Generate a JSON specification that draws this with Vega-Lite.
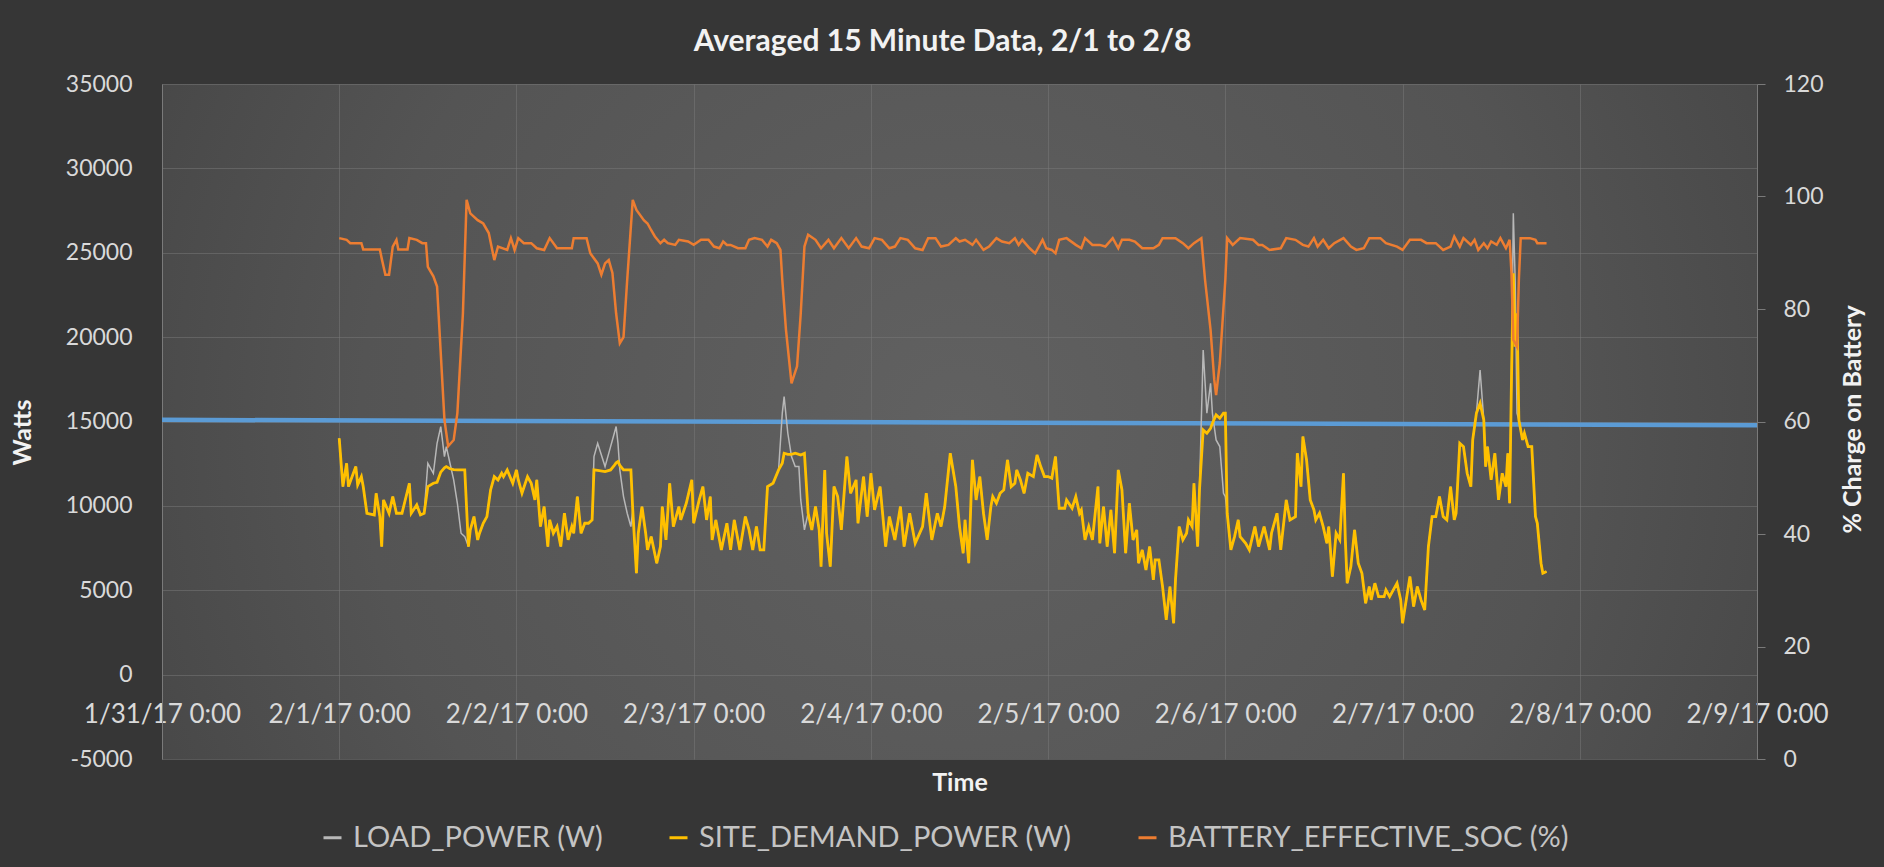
{
  "$schema": "https://vega.github.io/schema/vega-lite/v6.json",
  "width": 1595,
  "height": 675,
  "autosize": {"type": "none"},
  "padding": {"left": 162, "top": 84, "right": 127, "bottom": 108},
  "background": "#363636",
  "title": {
    "text": "Averaged 15 Minute Data, 2/1 to 2/8",
    "font": "Lato", "fontSize": 30, "fontWeight": "bold", "color": "#f2f2f2",
    "anchor": "middle", "frame": "group", "dx": -17, "baseline": "alphabetic", "offset": 26, "dy": 34
  },
  "config": {
    "font": "Lato",
    "view": {"stroke": null, "fill": {"gradient": "radial", "x1": 0.5, "y1": 0.5, "r1": 0, "x2": 0.5, "y2": 0.5, "r2": 0.75, "stops": [{"offset": 0, "color": "#616161"}, {"offset": 0.5, "color": "#545454"}, {"offset": 1, "color": "#3a3a3a"}]}},
    "axis": {"labelFont": "Lato", "titleFont": "Lato", "labelFontSize": 25, "titleFontSize": 25, "titleFontWeight": "bold", "labelColor": "#d9d9d9", "titleColor": "#f2f2f2", "gridColor": "#7a7a7a", "gridOpacity": 0.5, "gridWidth": 1, "domainColor": "#7a7a7a", "tickColor": "#7a7a7a"},
    "legend": {"labelFont": "Lato", "labelFontSize": 29, "labelColor": "#c4c4c4", "labelLimit": 0}
  },
  "datasets": {
    "limit": [{"t": "2017-01-31T00:00", "v": 15100}, {"t": "2017-02-09T00:00", "v": 14780}],
    "power": [
      {"t":"2017-02-01T00:00","d":14007,"l":14007},{"t":"2017-02-01T00:30","d":11143,"l":11143},{"t":"2017-02-01T01:00","d":12526,"l":12526},{"t":"2017-02-01T01:15","d":11143,"l":11143},{"t":"2017-02-01T02:15","d":12328,"l":12328},{"t":"2017-02-01T02:30","d":11242,"l":11242},{"t":"2017-02-01T03:00","d":11735,"l":11735},{"t":"2017-02-01T03:15","d":11143,"l":11143},{"t":"2017-02-01T03:45","d":9563,"l":9563},{"t":"2017-02-01T04:45","d":9464,"l":9464},{"t":"2017-02-01T05:00","d":10748,"l":10748},{"t":"2017-02-01T05:30","d":9365,"l":9365},{"t":"2017-02-01T05:45","d":7588,"l":7588},{"t":"2017-02-01T06:00","d":10353,"l":10353},{"t":"2017-02-01T06:45","d":9563,"l":9563},{"t":"2017-02-01T07:15","d":10550,"l":10550},{"t":"2017-02-01T07:45","d":9563,"l":9563},{"t":"2017-02-01T08:30","d":9563,"l":9563},{"t":"2017-02-01T09:30","d":11340,"l":11340},{"t":"2017-02-01T09:45","d":9563,"l":9563},{"t":"2017-02-01T10:30","d":10057,"l":10057},{"t":"2017-02-01T11:00","d":9464,"l":9464},{"t":"2017-02-01T11:30","d":9563,"l":9563},
      {"t":"2017-02-01T12:00","d":11143,"l":12525},{"t":"2017-02-01T12:45","d":11340,"l":11933},{"t":"2017-02-01T13:15","d":11400,"l":13710},{"t":"2017-02-01T13:45","d":12000,"l":14700},{"t":"2017-02-01T14:15","d":12250,"l":12921},{"t":"2017-02-01T14:30","d":12328,"l":13513},{"t":"2017-02-01T15:00","d":12200,"l":12526},{"t":"2017-02-01T15:30","d":12150,"l":11538},{"t":"2017-02-01T16:00","d":12130,"l":10155},{"t":"2017-02-01T16:30","d":12130,"l":8378},{"t":"2017-02-01T17:00","d":12130,"l":8180},
      {"t":"2017-02-01T17:30","d":7588,"l":7588},{"t":"2017-02-01T17:45","d":8575,"l":8575},{"t":"2017-02-01T18:15","d":9365,"l":9365},{"t":"2017-02-01T18:45","d":7983,"l":7983},{"t":"2017-02-01T19:00","d":8378,"l":8378},{"t":"2017-02-01T19:30","d":8970,"l":8970},{"t":"2017-02-01T20:00","d":9365,"l":9365},{"t":"2017-02-01T20:30","d":10945,"l":10945},{"t":"2017-02-01T21:00","d":11735,"l":11735},{"t":"2017-02-01T21:30","d":11538,"l":11538},{"t":"2017-02-01T22:00","d":11933,"l":11933},{"t":"2017-02-01T22:15","d":11735,"l":11735},{"t":"2017-02-01T22:45","d":12130,"l":12130},{"t":"2017-02-01T23:30","d":11340,"l":11340},
      {"t":"2017-02-02T00:00","d":12130,"l":12130},{"t":"2017-02-02T00:15","d":11538,"l":11538},{"t":"2017-02-02T00:45","d":10748,"l":10748},{"t":"2017-02-02T01:30","d":11735,"l":11735},{"t":"2017-02-02T02:00","d":11340,"l":11340},{"t":"2017-02-02T02:30","d":10353,"l":10353},{"t":"2017-02-02T02:45","d":11538,"l":11538},{"t":"2017-02-02T03:15","d":8773,"l":8773},{"t":"2017-02-02T03:45","d":9958,"l":9958},{"t":"2017-02-02T04:15","d":7588,"l":7588},{"t":"2017-02-02T04:30","d":9168,"l":9168},{"t":"2017-02-02T05:00","d":8378,"l":8378},{"t":"2017-02-02T05:30","d":8773,"l":8773},{"t":"2017-02-02T06:00","d":7588,"l":7588},{"t":"2017-02-02T06:30","d":9563,"l":9563},{"t":"2017-02-02T07:00","d":7983,"l":7983},{"t":"2017-02-02T07:30","d":8773,"l":8773},{"t":"2017-02-02T07:45","d":8378,"l":8378},{"t":"2017-02-02T08:15","d":10550,"l":10550},{"t":"2017-02-02T08:45","d":8378,"l":8378},{"t":"2017-02-02T09:15","d":8970,"l":8970},{"t":"2017-02-02T09:45","d":8970,"l":8970},{"t":"2017-02-02T10:15","d":9168,"l":9168},
      {"t":"2017-02-02T10:30","d":12130,"l":12921},{"t":"2017-02-02T11:00","d":12100,"l":13710},{"t":"2017-02-02T12:00","d":12032,"l":12328},{"t":"2017-02-02T12:45","d":12130,"l":13513},{"t":"2017-02-02T13:15","d":12400,"l":14303},{"t":"2017-02-02T13:30","d":12550,"l":14700},{"t":"2017-02-02T13:45","d":12624,"l":13710},{"t":"2017-02-02T14:00","d":12400,"l":12130},{"t":"2017-02-02T14:30","d":12130,"l":10550},{"t":"2017-02-02T15:00","d":12130,"l":9563},{"t":"2017-02-02T15:30","d":12130,"l":8773},
      {"t":"2017-02-02T15:45","d":9760,"l":9760},{"t":"2017-02-02T16:15","d":6008,"l":6008},{"t":"2017-02-02T16:30","d":8378,"l":8378},{"t":"2017-02-02T17:00","d":9958,"l":9958},{"t":"2017-02-02T17:30","d":8378,"l":8378},{"t":"2017-02-02T17:45","d":7390,"l":7390},{"t":"2017-02-02T18:15","d":8180,"l":8180},{"t":"2017-02-02T19:00","d":6600,"l":6600},{"t":"2017-02-02T19:30","d":7588,"l":7588},{"t":"2017-02-02T19:45","d":9958,"l":9958},{"t":"2017-02-02T20:15","d":7983,"l":7983},{"t":"2017-02-02T20:45","d":11340,"l":11340},{"t":"2017-02-02T21:15","d":8773,"l":8773},{"t":"2017-02-02T22:00","d":9958,"l":9958},{"t":"2017-02-02T22:15","d":9168,"l":9168},{"t":"2017-02-02T23:00","d":10155,"l":10155},{"t":"2017-02-02T23:45","d":11538,"l":11538},
      {"t":"2017-02-03T00:00","d":8970,"l":8970},{"t":"2017-02-03T00:45","d":10353,"l":10353},{"t":"2017-02-03T01:15","d":11143,"l":11143},{"t":"2017-02-03T01:45","d":9168,"l":9168},{"t":"2017-02-03T02:15","d":10550,"l":10550},{"t":"2017-02-03T02:30","d":7983,"l":7983},{"t":"2017-02-03T03:00","d":9168,"l":9168},{"t":"2017-02-03T03:45","d":7390,"l":7390},{"t":"2017-02-03T04:30","d":8970,"l":8970},{"t":"2017-02-03T05:00","d":7390,"l":7390},{"t":"2017-02-03T05:30","d":9168,"l":9168},{"t":"2017-02-03T06:15","d":7390,"l":7390},{"t":"2017-02-03T07:00","d":9365,"l":9365},{"t":"2017-02-03T07:30","d":8575,"l":8575},{"t":"2017-02-03T08:00","d":7390,"l":7390},{"t":"2017-02-03T08:30","d":8773,"l":8773},{"t":"2017-02-03T09:00","d":7390,"l":7390},{"t":"2017-02-03T09:30","d":7390,"l":7390},{"t":"2017-02-03T10:00","d":11143,"l":11143},{"t":"2017-02-03T10:45","d":11340,"l":11340},{"t":"2017-02-03T11:30","d":12130,"l":12130},
      {"t":"2017-02-03T12:00","d":12526,"l":15488},{"t":"2017-02-03T12:15","d":13118,"l":16475},{"t":"2017-02-03T12:45","d":13050,"l":14303},{"t":"2017-02-03T13:15","d":13050,"l":12921},{"t":"2017-02-03T13:45","d":13118,"l":12328},{"t":"2017-02-03T14:15","d":13050,"l":12328},{"t":"2017-02-03T14:30","d":13019,"l":10353},{"t":"2017-02-03T15:00","d":13118,"l":8575},
      {"t":"2017-02-03T15:30","d":9563,"l":9563},{"t":"2017-02-03T16:00","d":8575,"l":8575},{"t":"2017-02-03T16:30","d":9958,"l":9958},{"t":"2017-02-03T17:00","d":8575,"l":8575},{"t":"2017-02-03T17:15","d":6403,"l":6403},{"t":"2017-02-03T17:45","d":12130,"l":12130},{"t":"2017-02-03T18:00","d":8378,"l":8378},{"t":"2017-02-03T18:30","d":6403,"l":6403},{"t":"2017-02-03T19:00","d":11143,"l":11143},{"t":"2017-02-03T19:30","d":10550,"l":10550},{"t":"2017-02-03T20:00","d":8575,"l":8575},{"t":"2017-02-03T20:45","d":12921,"l":12921},{"t":"2017-02-03T21:15","d":10748,"l":10748},{"t":"2017-02-03T22:00","d":11538,"l":11538},{"t":"2017-02-03T22:15","d":8970,"l":8970},{"t":"2017-02-03T23:00","d":11735,"l":11735},{"t":"2017-02-03T23:30","d":9365,"l":9365},
      {"t":"2017-02-04T00:00","d":11933,"l":11933},{"t":"2017-02-04T00:30","d":9760,"l":9760},{"t":"2017-02-04T01:15","d":11143,"l":11143},{"t":"2017-02-04T02:00","d":7588,"l":7588},{"t":"2017-02-04T02:30","d":9365,"l":9365},{"t":"2017-02-04T03:15","d":7983,"l":7983},{"t":"2017-02-04T04:00","d":9958,"l":9958},{"t":"2017-02-04T04:30","d":7588,"l":7588},{"t":"2017-02-04T05:15","d":9563,"l":9563},{"t":"2017-02-04T06:00","d":7785,"l":7785},{"t":"2017-02-04T07:00","d":8773,"l":8773},{"t":"2017-02-04T07:30","d":10748,"l":10748},{"t":"2017-02-04T08:15","d":7983,"l":7983},{"t":"2017-02-04T09:00","d":9563,"l":9563},{"t":"2017-02-04T09:30","d":8773,"l":8773},{"t":"2017-02-04T10:00","d":9958,"l":9958},{"t":"2017-02-04T10:45","d":13118,"l":13118},{"t":"2017-02-04T11:30","d":11143,"l":11143},{"t":"2017-02-04T12:00","d":8773,"l":8773},{"t":"2017-02-04T12:30","d":7193,"l":7193},{"t":"2017-02-04T12:45","d":9168,"l":9168},{"t":"2017-02-04T13:15","d":6600,"l":6600},{"t":"2017-02-04T13:45","d":12723,"l":12723},{"t":"2017-02-04T14:15","d":10353,"l":10353},{"t":"2017-02-04T14:45","d":11735,"l":11735},{"t":"2017-02-04T15:15","d":9563,"l":9563},{"t":"2017-02-04T15:45","d":7983,"l":7983},{"t":"2017-02-04T16:15","d":9958,"l":9958},{"t":"2017-02-04T16:30","d":10550,"l":10550},{"t":"2017-02-04T17:00","d":10155,"l":10155},{"t":"2017-02-04T17:30","d":10748,"l":10748},{"t":"2017-02-04T18:00","d":10945,"l":10945},{"t":"2017-02-04T18:30","d":12723,"l":12723},{"t":"2017-02-04T19:00","d":11143,"l":11143},{"t":"2017-02-04T19:30","d":11340,"l":11340},{"t":"2017-02-04T19:45","d":12130,"l":12130},{"t":"2017-02-04T20:15","d":11538,"l":11538},{"t":"2017-02-04T20:45","d":10748,"l":10748},{"t":"2017-02-04T21:15","d":11933,"l":11933},{"t":"2017-02-04T22:00","d":11735,"l":11735},{"t":"2017-02-04T22:30","d":13019,"l":13019},{"t":"2017-02-04T23:00","d":12328,"l":12328},{"t":"2017-02-04T23:30","d":11735,"l":11735},
      {"t":"2017-02-05T00:00","d":11735,"l":11735},{"t":"2017-02-05T00:30","d":11636,"l":11636},{"t":"2017-02-05T01:00","d":12921,"l":12921},{"t":"2017-02-05T01:30","d":9859,"l":9859},{"t":"2017-02-05T02:15","d":9859,"l":9859},{"t":"2017-02-05T02:30","d":10353,"l":10353},{"t":"2017-02-05T03:15","d":9859,"l":9859},{"t":"2017-02-05T03:45","d":10550,"l":10550},{"t":"2017-02-05T04:15","d":9563,"l":9563},{"t":"2017-02-05T04:30","d":9760,"l":9760},{"t":"2017-02-05T05:00","d":7983,"l":7983},{"t":"2017-02-05T05:30","d":8773,"l":8773},{"t":"2017-02-05T06:00","d":7983,"l":7983},{"t":"2017-02-05T06:45","d":11143,"l":11143},{"t":"2017-02-05T07:00","d":7785,"l":7785},{"t":"2017-02-05T07:30","d":9958,"l":9958},{"t":"2017-02-05T08:00","d":7588,"l":7588},{"t":"2017-02-05T08:30","d":9760,"l":9760},{"t":"2017-02-05T09:00","d":7193,"l":7193},{"t":"2017-02-05T09:30","d":12130,"l":12130},{"t":"2017-02-05T10:00","d":10945,"l":10945},{"t":"2017-02-05T10:30","d":7193,"l":7193},{"t":"2017-02-05T11:00","d":10155,"l":10155},{"t":"2017-02-05T11:30","d":7983,"l":7983},{"t":"2017-02-05T12:00","d":8575,"l":8575},{"t":"2017-02-05T12:15","d":6600,"l":6600},{"t":"2017-02-05T12:45","d":7390,"l":7390},{"t":"2017-02-05T13:15","d":6205,"l":6205},{"t":"2017-02-05T13:45","d":7588,"l":7588},{"t":"2017-02-05T14:15","d":5613,"l":5613},{"t":"2017-02-05T14:30","d":6798,"l":6798},{"t":"2017-02-05T15:00","d":6798,"l":6798},{"t":"2017-02-05T15:30","d":5218,"l":5218},{"t":"2017-02-05T16:00","d":3243,"l":3243},{"t":"2017-02-05T16:30","d":5218,"l":5218},{"t":"2017-02-05T17:00","d":3045,"l":3045},{"t":"2017-02-05T17:15","d":5613,"l":5613},{"t":"2017-02-05T17:45","d":8773,"l":8773},{"t":"2017-02-05T18:15","d":7983,"l":7983},{"t":"2017-02-05T18:45","d":8378,"l":8378},{"t":"2017-02-05T19:00","d":9168,"l":9168},{"t":"2017-02-05T19:30","d":8773,"l":8773},{"t":"2017-02-05T19:45","d":11340,"l":11340},{"t":"2017-02-05T20:15","d":7588,"l":7588},{"t":"2017-02-05T20:30","d":10945,"l":10945},
      {"t":"2017-02-05T21:00","d":14500,"l":19240},{"t":"2017-02-05T21:30","d":14303,"l":15488},{"t":"2017-02-05T22:00","d":14600,"l":17266},{"t":"2017-02-05T22:15","d":14895,"l":15488},{"t":"2017-02-05T22:45","d":15389,"l":13908},{"t":"2017-02-05T23:15","d":15192,"l":13513},{"t":"2017-02-05T23:45","d":15488,"l":10748},{"t":"2017-02-06T00:00","d":15488,"l":10550},
      {"t":"2017-02-06T00:15","d":9563,"l":9563},{"t":"2017-02-06T00:45","d":7390,"l":7390},{"t":"2017-02-06T01:15","d":8180,"l":8180},{"t":"2017-02-06T01:45","d":9168,"l":9168},{"t":"2017-02-06T02:00","d":8180,"l":8180},{"t":"2017-02-06T02:45","d":7785,"l":7785},{"t":"2017-02-06T03:15","d":7390,"l":7390},{"t":"2017-02-06T04:00","d":8773,"l":8773},{"t":"2017-02-06T04:30","d":7588,"l":7588},{"t":"2017-02-06T05:15","d":8773,"l":8773},{"t":"2017-02-06T06:00","d":7390,"l":7390},{"t":"2017-02-06T06:15","d":8378,"l":8378},{"t":"2017-02-06T07:00","d":9563,"l":9563},{"t":"2017-02-06T07:30","d":7390,"l":7390},{"t":"2017-02-06T07:45","d":8378,"l":8378},{"t":"2017-02-06T08:15","d":10353,"l":10353},{"t":"2017-02-06T08:45","d":9168,"l":9168},{"t":"2017-02-06T09:30","d":9365,"l":9365},{"t":"2017-02-06T09:45","d":13118,"l":13118},{"t":"2017-02-06T10:15","d":11143,"l":11143},{"t":"2017-02-06T10:30","d":14106,"l":14106},{"t":"2017-02-06T11:00","d":12723,"l":12723},{"t":"2017-02-06T11:30","d":10353,"l":10353},{"t":"2017-02-06T12:00","d":9760,"l":9760},{"t":"2017-02-06T12:15","d":9168,"l":9168},{"t":"2017-02-06T12:45","d":9563,"l":9563},{"t":"2017-02-06T13:15","d":8773,"l":8773},{"t":"2017-02-06T13:45","d":7785,"l":7785},{"t":"2017-02-06T14:00","d":8773,"l":8773},{"t":"2017-02-06T14:30","d":5810,"l":5810},{"t":"2017-02-06T15:00","d":8378,"l":8378},{"t":"2017-02-06T15:30","d":7983,"l":7983},{"t":"2017-02-06T16:00","d":11933,"l":11933},{"t":"2017-02-06T16:15","d":7983,"l":7983},{"t":"2017-02-06T16:30","d":5415,"l":5415},{"t":"2017-02-06T17:00","d":6403,"l":6403},{"t":"2017-02-06T17:30","d":8575,"l":8575},{"t":"2017-02-06T18:00","d":6600,"l":6600},{"t":"2017-02-06T18:30","d":6008,"l":6008},{"t":"2017-02-06T19:00","d":4230,"l":4230},{"t":"2017-02-06T19:30","d":5218,"l":5218},{"t":"2017-02-06T19:45","d":4428,"l":4428},{"t":"2017-02-06T20:15","d":5415,"l":5415},{"t":"2017-02-06T20:45","d":4625,"l":4625},{"t":"2017-02-06T21:30","d":4625,"l":4625},{"t":"2017-02-06T21:45","d":5020,"l":5020},{"t":"2017-02-06T22:15","d":4625,"l":4625},{"t":"2017-02-06T22:45","d":5020,"l":5020},{"t":"2017-02-06T23:15","d":5415,"l":5415},{"t":"2017-02-06T23:45","d":4428,"l":4428},
      {"t":"2017-02-07T00:00","d":3045,"l":3045},{"t":"2017-02-07T00:30","d":4428,"l":4428},{"t":"2017-02-07T01:00","d":5810,"l":5810},{"t":"2017-02-07T01:30","d":4033,"l":4033},{"t":"2017-02-07T02:00","d":5218,"l":5218},{"t":"2017-02-07T02:30","d":4428,"l":4428},{"t":"2017-02-07T03:00","d":3836,"l":3836},{"t":"2017-02-07T03:30","d":7588,"l":7588},{"t":"2017-02-07T04:00","d":9365,"l":9365},{"t":"2017-02-07T04:30","d":9365,"l":9365},{"t":"2017-02-07T05:00","d":10550,"l":10550},{"t":"2017-02-07T05:30","d":9365,"l":9365},{"t":"2017-02-07T06:00","d":9168,"l":9168},{"t":"2017-02-07T06:30","d":11143,"l":11143},{"t":"2017-02-07T07:00","d":9168,"l":9168},{"t":"2017-02-07T07:15","d":9563,"l":9563},{"t":"2017-02-07T07:45","d":13710,"l":13710},{"t":"2017-02-07T08:15","d":13513,"l":13513},{"t":"2017-02-07T08:45","d":11933,"l":11933},{"t":"2017-02-07T09:15","d":11143,"l":11143},{"t":"2017-02-07T09:30","d":13908,"l":13908},{"t":"2017-02-07T10:00","d":15488,"l":15488},{"t":"2017-02-07T10:30","d":16080,"l":18055},{"t":"2017-02-07T11:00","d":15093,"l":15093},{"t":"2017-02-07T11:15","d":12328,"l":12328},{"t":"2017-02-07T11:30","d":13513,"l":13513},{"t":"2017-02-07T12:00","d":11538,"l":11538},{"t":"2017-02-07T12:30","d":13118,"l":13118},{"t":"2017-02-07T13:00","d":10353,"l":10353},{"t":"2017-02-07T13:30","d":11933,"l":11933},{"t":"2017-02-07T14:00","d":11143,"l":11143},{"t":"2017-02-07T14:15","d":13118,"l":13118},{"t":"2017-02-07T14:30","d":10155,"l":10155},{"t":"2017-02-07T14:45","d":17463,"l":17463},{"t":"2017-02-07T15:00","d":23783,"l":27338},{"t":"2017-02-07T15:15","d":19438,"l":23388},{"t":"2017-02-07T15:30","d":21413,"l":15488},{"t":"2017-02-07T15:45","d":15093,"l":15093},{"t":"2017-02-07T16:15","d":13908,"l":13908},{"t":"2017-02-07T16:30","d":14303,"l":14303},{"t":"2017-02-07T17:00","d":13513,"l":13513},{"t":"2017-02-07T17:30","d":13513,"l":13513},{"t":"2017-02-07T18:00","d":9365,"l":9365},{"t":"2017-02-07T18:15","d":8970,"l":8970},{"t":"2017-02-07T18:45","d":6600,"l":6600},{"t":"2017-02-07T19:00","d":6008,"l":6008},{"t":"2017-02-07T19:30","d":6107,"l":6107}
    ],
    "soc": [
      {"t":"2017-02-01T00:00","s":92.6},{"t":"2017-02-01T01:00","s":92.3},{"t":"2017-02-01T01:30","s":91.7},{"t":"2017-02-01T03:00","s":91.7},{"t":"2017-02-01T03:15","s":90.6},{"t":"2017-02-01T05:30","s":90.6},{"t":"2017-02-01T05:45","s":89},{"t":"2017-02-01T06:15","s":86.1},{"t":"2017-02-01T06:45","s":86.1},{"t":"2017-02-01T07:15","s":91.1},{"t":"2017-02-01T07:45","s":92.3},{"t":"2017-02-01T08:00","s":90.6},{"t":"2017-02-01T09:15","s":90.6},{"t":"2017-02-01T09:30","s":92.6},{"t":"2017-02-01T10:30","s":92.3},{"t":"2017-02-01T11:15","s":91.7},{"t":"2017-02-01T11:45","s":91.7},{"t":"2017-02-01T12:00","s":87.5},{"t":"2017-02-01T12:45","s":85.8},{"t":"2017-02-01T13:15","s":84},{"t":"2017-02-01T14:15","s":60.3},{"t":"2017-02-01T14:45","s":55.6},{"t":"2017-02-01T15:30","s":56.7},{"t":"2017-02-01T16:00","s":61.5},{"t":"2017-02-01T16:45","s":79.2},{"t":"2017-02-01T17:15","s":99.4},{"t":"2017-02-01T17:45","s":97},{"t":"2017-02-01T18:45","s":95.8},{"t":"2017-02-01T19:30","s":95.2},{"t":"2017-02-01T20:15","s":93.5},{"t":"2017-02-01T21:00","s":88.7},{"t":"2017-02-01T21:30","s":91.1},{"t":"2017-02-01T22:45","s":90.5},{"t":"2017-02-01T23:15","s":92.6},{"t":"2017-02-01T23:45","s":90.5},
      {"t":"2017-02-02T00:15","s":92.6},{"t":"2017-02-02T01:00","s":91.7},{"t":"2017-02-02T02:00","s":91.7},{"t":"2017-02-02T02:45","s":90.8},{"t":"2017-02-02T03:45","s":90.5},{"t":"2017-02-02T04:30","s":92.6},{"t":"2017-02-02T05:30","s":90.8},{"t":"2017-02-02T07:30","s":90.8},{"t":"2017-02-02T07:45","s":92.6},{"t":"2017-02-02T09:30","s":92.6},{"t":"2017-02-02T10:00","s":89.9},{"t":"2017-02-02T11:00","s":88.1},{"t":"2017-02-02T11:30","s":86.1},{"t":"2017-02-02T12:00","s":88.1},{"t":"2017-02-02T12:30","s":88.7},{"t":"2017-02-02T13:00","s":86.4},{"t":"2017-02-02T13:30","s":79.2},{"t":"2017-02-02T14:00","s":73.9},{"t":"2017-02-02T14:30","s":75},{"t":"2017-02-02T15:00","s":85.2},{"t":"2017-02-02T15:45","s":99.4},{"t":"2017-02-02T16:15","s":97.6},{"t":"2017-02-02T17:15","s":95.8},{"t":"2017-02-02T17:45","s":95.2},{"t":"2017-02-02T18:15","s":94},{"t":"2017-02-02T18:45","s":92.9},{"t":"2017-02-02T19:30","s":91.7},{"t":"2017-02-02T20:00","s":92.3},{"t":"2017-02-02T20:30","s":91.7},{"t":"2017-02-02T21:30","s":91.4},{"t":"2017-02-02T22:00","s":92.3},{"t":"2017-02-02T23:15","s":92},
      {"t":"2017-02-03T00:00","s":91.4},{"t":"2017-02-03T01:00","s":92.3},{"t":"2017-02-03T02:00","s":92.3},{"t":"2017-02-03T02:45","s":91.1},{"t":"2017-02-03T03:30","s":90.8},{"t":"2017-02-03T04:00","s":92},{"t":"2017-02-03T04:30","s":91.4},{"t":"2017-02-03T05:00","s":91.4},{"t":"2017-02-03T06:00","s":90.8},{"t":"2017-02-03T07:00","s":90.8},{"t":"2017-02-03T07:30","s":92.3},{"t":"2017-02-03T08:15","s":92.6},{"t":"2017-02-03T09:15","s":92.3},{"t":"2017-02-03T10:00","s":91.1},{"t":"2017-02-03T10:30","s":92.3},{"t":"2017-02-03T11:15","s":91.7},{"t":"2017-02-03T11:45","s":90.5},{"t":"2017-02-03T12:00","s":85.2},{"t":"2017-02-03T12:30","s":76.3},{"t":"2017-02-03T13:15","s":66.8},{"t":"2017-02-03T14:00","s":69.8},{"t":"2017-02-03T14:30","s":79.2},{"t":"2017-02-03T15:00","s":91.1},{"t":"2017-02-03T15:30","s":93.2},{"t":"2017-02-03T16:30","s":92.3},{"t":"2017-02-03T17:15","s":90.8},{"t":"2017-02-03T18:15","s":92.3},{"t":"2017-02-03T19:00","s":90.8},{"t":"2017-02-03T20:00","s":92.6},{"t":"2017-02-03T21:00","s":90.8},{"t":"2017-02-03T22:00","s":92.6},{"t":"2017-02-03T22:45","s":91.1},{"t":"2017-02-03T23:45","s":90.8},
      {"t":"2017-02-04T00:30","s":92.6},{"t":"2017-02-04T01:30","s":92.3},{"t":"2017-02-04T02:30","s":90.8},{"t":"2017-02-04T03:15","s":91.1},{"t":"2017-02-04T04:00","s":92.6},{"t":"2017-02-04T05:00","s":92.3},{"t":"2017-02-04T06:00","s":90.8},{"t":"2017-02-04T07:00","s":90.5},{"t":"2017-02-04T07:45","s":92.6},{"t":"2017-02-04T08:45","s":92.6},{"t":"2017-02-04T09:30","s":91.1},{"t":"2017-02-04T10:30","s":91.4},{"t":"2017-02-04T11:30","s":92.6},{"t":"2017-02-04T12:00","s":92},{"t":"2017-02-04T12:45","s":92.3},{"t":"2017-02-04T13:45","s":91.4},{"t":"2017-02-04T14:15","s":92.3},{"t":"2017-02-04T15:15","s":90.5},{"t":"2017-02-04T16:00","s":91.1},{"t":"2017-02-04T17:00","s":92.6},{"t":"2017-02-04T17:45","s":92},{"t":"2017-02-04T18:45","s":91.7},{"t":"2017-02-04T19:30","s":92.6},{"t":"2017-02-04T20:00","s":91.4},{"t":"2017-02-04T20:30","s":92.3},{"t":"2017-02-04T21:30","s":90.8},{"t":"2017-02-04T22:15","s":89.9},{"t":"2017-02-04T23:15","s":92.3},{"t":"2017-02-04T23:45","s":90.8},
      {"t":"2017-02-05T00:30","s":90.5},{"t":"2017-02-05T01:00","s":89.9},{"t":"2017-02-05T01:30","s":92.3},{"t":"2017-02-05T02:30","s":92.6},{"t":"2017-02-05T03:45","s":91.4},{"t":"2017-02-05T04:30","s":90.8},{"t":"2017-02-05T05:00","s":92.6},{"t":"2017-02-05T06:00","s":91.4},{"t":"2017-02-05T07:00","s":91.4},{"t":"2017-02-05T07:45","s":91.1},{"t":"2017-02-05T08:45","s":92.6},{"t":"2017-02-05T09:30","s":90.8},{"t":"2017-02-05T10:00","s":92.3},{"t":"2017-02-05T11:00","s":92.3},{"t":"2017-02-05T11:45","s":92},{"t":"2017-02-05T12:45","s":90.8},{"t":"2017-02-05T14:15","s":90.8},{"t":"2017-02-05T15:00","s":91.4},{"t":"2017-02-05T15:30","s":92.6},{"t":"2017-02-05T17:15","s":92.6},{"t":"2017-02-05T18:15","s":91.7},{"t":"2017-02-05T19:00","s":90.8},{"t":"2017-02-05T19:45","s":91.7},{"t":"2017-02-05T20:45","s":92.6},{"t":"2017-02-05T21:15","s":85.2},{"t":"2017-02-05T22:00","s":76.3},{"t":"2017-02-05T22:30","s":67.4},{"t":"2017-02-05T22:45","s":64.7},{"t":"2017-02-05T23:15","s":70.4},
      {"t":"2017-02-06T00:00","s":85.2},{"t":"2017-02-06T00:15","s":92.6},{"t":"2017-02-06T01:00","s":91.4},{"t":"2017-02-06T02:00","s":92.6},{"t":"2017-02-06T03:45","s":92.3},{"t":"2017-02-06T04:30","s":91.4},{"t":"2017-02-06T05:00","s":91.4},{"t":"2017-02-06T06:00","s":90.5},{"t":"2017-02-06T07:30","s":90.8},{"t":"2017-02-06T08:15","s":92.6},{"t":"2017-02-06T09:30","s":92.3},{"t":"2017-02-06T10:30","s":91.4},{"t":"2017-02-06T11:15","s":91.1},{"t":"2017-02-06T12:00","s":92.6},{"t":"2017-02-06T12:30","s":91.1},{"t":"2017-02-06T13:15","s":92.3},{"t":"2017-02-06T14:00","s":90.8},{"t":"2017-02-06T14:45","s":91.7},{"t":"2017-02-06T16:00","s":92.6},{"t":"2017-02-06T17:00","s":91.1},{"t":"2017-02-06T17:45","s":90.5},{"t":"2017-02-06T18:45","s":90.8},{"t":"2017-02-06T19:30","s":92.6},{"t":"2017-02-06T21:00","s":92.6},{"t":"2017-02-06T21:45","s":91.7},{"t":"2017-02-06T23:15","s":91.1},
      {"t":"2017-02-07T00:00","s":90.5},{"t":"2017-02-07T01:00","s":92.3},{"t":"2017-02-07T02:30","s":92.3},{"t":"2017-02-07T03:15","s":91.7},{"t":"2017-02-07T04:30","s":91.7},{"t":"2017-02-07T05:30","s":90.5},{"t":"2017-02-07T06:30","s":91.1},{"t":"2017-02-07T07:00","s":92.9},{"t":"2017-02-07T07:45","s":91.1},{"t":"2017-02-07T08:15","s":92.6},{"t":"2017-02-07T09:15","s":91.4},{"t":"2017-02-07T09:45","s":92.3},{"t":"2017-02-07T10:15","s":90.5},{"t":"2017-02-07T11:00","s":91.7},{"t":"2017-02-07T11:30","s":90.8},{"t":"2017-02-07T12:00","s":92},{"t":"2017-02-07T12:45","s":91.4},{"t":"2017-02-07T13:15","s":92.6},{"t":"2017-02-07T14:00","s":90.8},{"t":"2017-02-07T14:30","s":92.3},{"t":"2017-02-07T14:45","s":86.4},{"t":"2017-02-07T15:00","s":74.5},{"t":"2017-02-07T15:30","s":73.3},{"t":"2017-02-07T15:45","s":85.2},{"t":"2017-02-07T16:00","s":92.6},{"t":"2017-02-07T17:15","s":92.6},{"t":"2017-02-07T18:00","s":92.3},{"t":"2017-02-07T18:15","s":91.7},{"t":"2017-02-07T19:30","s":91.7}
    ]
  },
  "layer": [
    {
      "layer": [
        {
          "data": {"name": "limit"},
          "mark": {"type": "line", "color": "#5B9BD5", "strokeWidth": 4.5},
          "encoding": {
            "x": {"field": "t", "type": "temporal",
              "scale": {"domain": [{"year": 2017, "month": 1, "date": 31}, {"year": 2017, "month": 2, "date": 9}]},
              "axis": {"title": "Time", "format": "%-m/%-d/%y %-H:%M", "labelOverlap": false, "labelFlush": false,
                "values": [{"year": 2017, "month": 1, "date": 31}, {"year": 2017, "month": 2, "date": 1}, {"year": 2017, "month": 2, "date": 2}, {"year": 2017, "month": 2, "date": 3}, {"year": 2017, "month": 2, "date": 4}, {"year": 2017, "month": 2, "date": 5}, {"year": 2017, "month": 2, "date": 6}, {"year": 2017, "month": 2, "date": 7}, {"year": 2017, "month": 2, "date": 8}, {"year": 2017, "month": 2, "date": 9}],
                "ticks": false, "domain": false, "grid": true, "labelPadding": -45, "labelBaseline": "middle", "labelFontSize": 26,
                "titleY": 23, "titleBaseline": "middle"}},
            "y": {"field": "v", "type": "quantitative",
              "scale": {"domain": [-5000, 35000], "nice": false},
              "axis": {"title": "Watts", "labelExpr": "datum.value + ''", "labelFontSize": 23, "values": [-5000, 0, 5000, 10000, 15000, 20000, 25000, 30000, 35000], "ticks": false, "domain": true, "grid": true, "labelPadding": 30,
                "titleX": -140, "titleY": 348, "titleAlign": "center", "titleBaseline": "middle", "titleAngle": -90}}
          }
        },
        {
          "data": {"name": "power"},
          "mark": {"type": "line", "strokeWidth": 1.5},
          "encoding": {
            "x": {"field": "t", "type": "temporal"},
            "y": {"field": "l", "type": "quantitative", "title": "Watts"},
            "color": {"datum": "LOAD_POWER (W)", "type": "nominal",
              "scale": {"domain": ["LOAD_POWER (W)", "SITE_DEMAND_POWER (W)", "BATTERY_EFFECTIVE_SOC (%)"], "range": ["#b8b8b8", "#FFC000", "#ED7D31"]},
              "legend": {"title": null, "orient": "none", "legendX": 156, "legendY": 739, "direction": "horizontal", "columns": 3, "symbolType": "stroke", "symbolSize": 324, "symbolStrokeWidth": 3, "labelOffset": 6, "columnPadding": 60, "padding": 0, "labelLimit": 0}}
          }
        },
        {
          "data": {"name": "power"},
          "mark": {"type": "line", "strokeWidth": 2.8},
          "encoding": {
            "x": {"field": "t", "type": "temporal"},
            "y": {"field": "d", "type": "quantitative", "title": "Watts"},
            "color": {"datum": "SITE_DEMAND_POWER (W)", "type": "nominal"}
          }
        }
      ]
    },
    {
      "data": {"name": "soc"},
      "mark": {"type": "line", "strokeWidth": 2.5},
      "encoding": {
        "x": {"field": "t", "type": "temporal"},
        "y": {"field": "s", "type": "quantitative",
          "scale": {"domain": [0, 120], "nice": false},
          "axis": {"orient": "right", "title": "% Charge on Battery", "labelFontSize": 23, "values": [0, 20, 40, 60, 80, 100, 120], "grid": false, "ticks": true, "tickSize": 8, "domain": true, "labelPadding": 18,
            "titleX": 95, "titleY": 335, "titleAlign": "center", "titleBaseline": "middle", "titleAngle": -90}},
        "color": {"datum": "BATTERY_EFFECTIVE_SOC (%)", "type": "nominal"}
      }
    }
  ],
  "resolve": {"scale": {"y": "independent"}}
}
